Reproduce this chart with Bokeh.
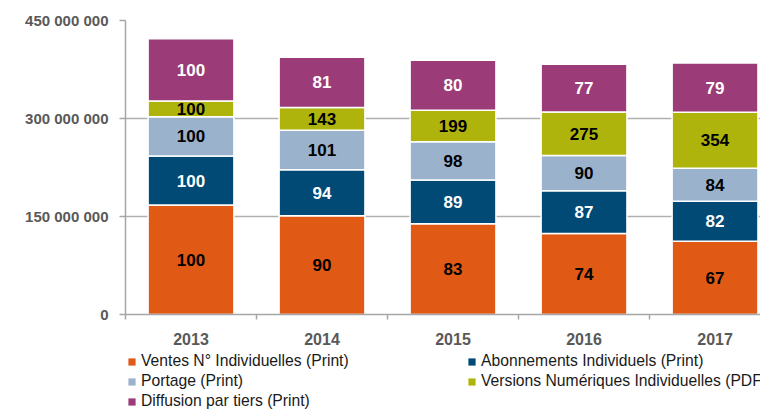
from bokeh.plotting import figure
from bokeh.models import ColumnDataSource, FixedTicker, Legend
from bokeh.layouts import column
from bokeh.core.properties import value
from bokeh.embed import file_html
from bokeh.resources import INLINE

years = ["2013", "2014", "2015", "2016", "2017"]
series_names = [
    "Ventes N° Individuelles (Print)",
    "Abonnements Individuels (Print)",
    "Portage (Print)",
    "Versions Numériques Individuelles (PDF)",
    "Diffusion par tiers (Print)",
]
# absolute volumes
ventes = [167.5e6, 151.0e6, 139.0e6, 124.0e6, 112.0e6]
abonnements = [75.0e6, 70.5e6, 66.8e6, 65.3e6, 61.5e6]
portage = [60.0e6, 60.6e6, 58.8e6, 54.0e6, 50.4e6]
numeriques = [24.2e6, 34.6e6, 48.2e6, 66.5e6, 85.7e6]
tiers = [95.3e6, 77.2e6, 76.2e6, 73.4e6, 75.3e6]
# index labels (base 100 in 2013)
idx_ventes = [100, 90, 83, 74, 67]
idx_abonnements = [100, 94, 89, 87, 82]
idx_portage = [100, 101, 98, 90, 84]
idx_numeriques = [100, 143, 199, 275, 354]
idx_tiers = [100, 81, 80, 77, 79]
y_ticks = [0, 150e6, 300e6, 450e6]
y_tick_labels = ["0", "150 000 000", "300 000 000", "450 000 000"]

colors = ["#E05A15", "#004A75", "#9BB2CC", "#AEB40C", "#9B3C78"]
label_colors = ["#000000", "#FFFFFF", "#000000", "#000000", "#FFFFFF"]
FONT = "Liberation Sans"

keys = ["ventes", "abonnements", "portage", "numeriques", "tiers"]
values_list = [ventes, abonnements, portage, numeriques, tiers]
idx_list = [idx_ventes, idx_abonnements, idx_portage, idx_numeriques, idx_tiers]

xs = [i + 0.5 for i in range(len(years))]
data = {"x": xs}
for k, v in zip(keys, values_list):
    data[k] = v
source = ColumnDataSource(data)

p = figure(width=760, height=350, x_range=(0, 4.847), y_range=(0, 450e6),
           output_backend="svg", toolbar_location=None,
           min_border_left=125, min_border_right=0, min_border_top=20,
           min_border_bottom=36)
p.outline_line_color = None
p.background_fill_color = "white"
p.border_fill_color = "white"

renderers = p.vbar_stack(keys, x="x", width=0.655, source=source,
                         color=colors, line_color="white", line_width=1.5)
for r, c in zip(renderers, colors):
    r.glyph.fill_color = c
    r.glyph.line_color = "white"

# labels
lx, ly, lt, lc = [], [], [], []
bottoms = [0.0] * len(years)
for vals, idxs, tc in zip(values_list, idx_list, label_colors):
    for i in range(len(years)):
        lx.append(xs[i])
        ly.append(bottoms[i] + vals[i] / 2)
        lt.append(str(idxs[i]))
        lc.append(tc)
        bottoms[i] += vals[i]
lsrc = ColumnDataSource(dict(x=lx, y=ly, t=lt, c=lc))
p.text(x="x", y="y", text="t", source=lsrc, text_color="c",
       text_font=value(FONT), text_font_style="bold", text_font_size="17px",
       text_align="center", text_baseline="middle")

# y axis
p.yaxis.ticker = FixedTicker(ticks=y_ticks)
p.yaxis.major_label_overrides = {t: l for t, l in zip(y_ticks, y_tick_labels)}
p.yaxis.major_tick_out = 6
p.yaxis.major_tick_in = 0
p.yaxis.minor_tick_out = 0
p.yaxis.minor_tick_in = 0
p.yaxis.major_label_standoff = 11
p.yaxis.axis_line_color = "#A6A6A6"
p.yaxis.axis_line_width = 1.5
p.yaxis.major_tick_line_color = "#A6A6A6"
p.yaxis.major_tick_line_width = 1.5
p.yaxis.major_label_text_font = FONT
p.yaxis.major_label_text_font_style = "bold"
p.yaxis.major_label_text_font_size = "15px"
p.yaxis.major_label_text_color = "#595959"

# x axis
p.xaxis.ticker = FixedTicker(ticks=xs, minor_ticks=list(range(len(years) + 1)))
p.xaxis.major_label_overrides = {x: y for x, y in zip(xs, years)}
p.xaxis.major_tick_out = 0
p.xaxis.major_tick_in = 0
p.xaxis.minor_tick_out = 5
p.xaxis.minor_tick_in = 0
p.xaxis.major_label_standoff = 13
p.xaxis.axis_line_color = "#A6A6A6"
p.xaxis.axis_line_width = 1.5
p.xaxis.minor_tick_line_color = "#A6A6A6"
p.xaxis.minor_tick_line_width = 1.5
p.xaxis.major_label_text_font = FONT
p.xaxis.major_label_text_font_style = "bold"
p.xaxis.major_label_text_font_size = "16px"
p.xaxis.major_label_text_color = "#595959"

p.xgrid.visible = False
p.ygrid.ticker = FixedTicker(ticks=y_ticks)
p.ygrid.grid_line_color = "#B0B0B0"
p.ygrid.grid_line_width = 1.5

# legend strip below the chart (its frame aligns with the chart frame)
pl = figure(width=760, height=60, x_range=(0, 1), y_range=(0, 1),
            output_backend="svg", toolbar_location=None, min_border=0)
pl.axis.visible = False
pl.grid.visible = False
pl.outline_line_color = None
pl.border_fill_color = "white"
key_renderers = []
for c in colors:
    # zero-size key glyph: only used to draw the legend swatch
    kr = pl.vbar(x=[0], top=[0], width=0, fill_color=c, line_color=None)
    key_renderers.append(kr)

items = [(n, [r]) for n, r in zip(series_names, key_renderers)]
legend = Legend(items=items, location=(1, -2), orientation="horizontal",
                ncols=2, glyph_width=9, glyph_height=9, label_standoff=5,
                label_width=326, label_height=20, spacing=0,
                label_text_font=FONT, label_text_font_size="15.7px",
                label_text_color="#1A1A1A", padding=1, margin=0,
                border_line_alpha=0, background_fill_alpha=0)
pl.add_layout(legend)

layout = column(p, pl, spacing=0)
open("out.html", "w").write(file_html(layout, INLINE))
